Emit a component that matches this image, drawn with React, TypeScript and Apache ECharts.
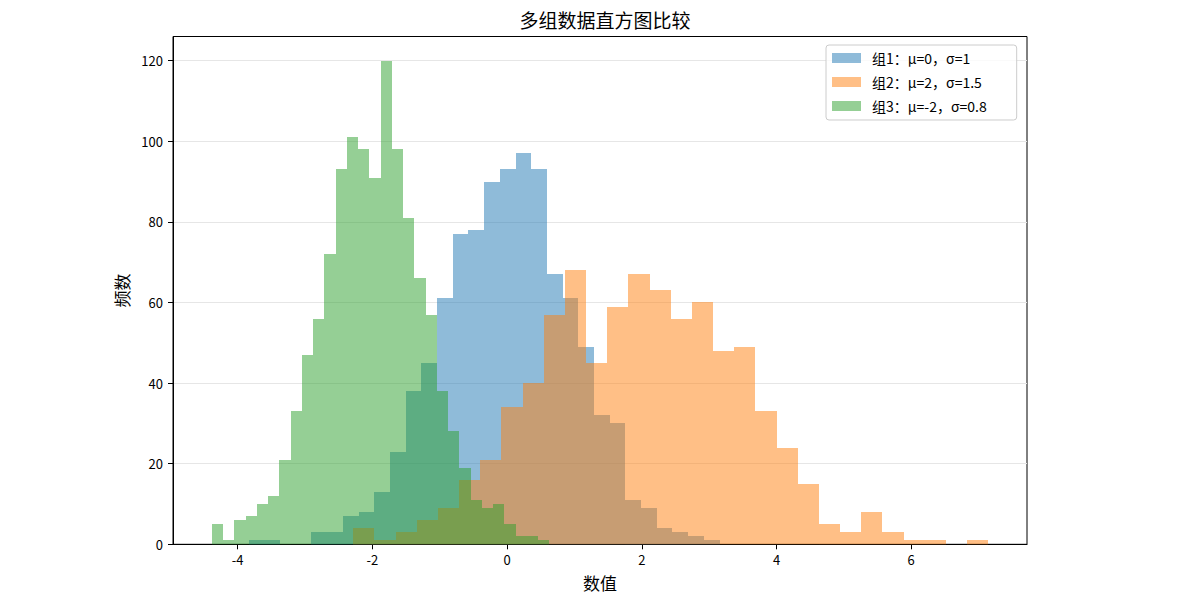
import { useEffect, useRef } from 'react';
import * as echarts from 'echarts';

// histogram counts (30 bins each)
const group1Counts = [1, 1, 0, 0, 3, 3, 7, 8, 13, 23, 38, 45, 61, 77, 78, 90, 93, 97, 93, 67, 61, 49, 32, 30, 11, 9, 4, 3, 2, 1];
const group2Counts = [4, 1, 3, 6, 9, 16, 21, 34, 40, 57, 68, 45, 59, 67, 63, 56, 60, 48, 49, 33, 24, 15, 5, 3, 8, 3, 1, 1, 0, 1];
const group3Counts = [5, 1, 6, 7, 10, 12, 21, 33, 47, 56, 72, 93, 101, 98, 91, 120, 98, 81, 66, 57, 38, 28, 19, 11, 9, 10, 5, 2, 2, 1];

// data range covered by each group's bins
const group1Range = [-3.836, 3.154];
const group2Range = [-2.283, 7.143];
const group3Range = [-4.384, 0.626];

const groupNames = ['组1：μ=0，σ=1', '组2：μ=2，σ=1.5', '组3：μ=-2，σ=0.8'];
const groupColors = ['rgba(31,119,180,0.5)', 'rgba(255,127,14,0.5)', 'rgba(44,160,44,0.5)'];

const xTicks = [-4, -2, 0, 2, 4, 6];
const yTicks = [0, 20, 40, 60, 80, 100, 120];

const FONT = '"Noto Sans CJK SC", "DejaVu Sans", sans-serif';

function toBins(counts: number[], range: number[]) {
  const w = (range[1] - range[0]) / counts.length;
  return counts.map((c, i) => [range[0] + i * w, range[0] + (i + 1) * w, c]);
}

export default function App() {
  const ref = useRef<HTMLDivElement>(null);

  useEffect(() => {
    if (!ref.current) return;
    const chart = echarts.init(ref.current, null, { renderer: 'svg' });

    const groups = [
      toBins(group1Counts, group1Range),
      toBins(group2Counts, group2Range),
      toBins(group3Counts, group3Range),
    ];
    const lo = Math.min(group1Range[0], group2Range[0], group3Range[0]);
    const hi = Math.max(group1Range[1], group2Range[1], group3Range[1]);
    const pad = (hi - lo) * 0.05;
    const yMax = Math.max(...group1Counts, ...group2Counts, ...group3Counts) * 1.05;

    chart.setOption({
      animation: false,
      textStyle: { fontFamily: FONT },
      title: {
        text: '多组数据直方图比较',
        left: 600,
        top: 5,
        textAlign: 'center',
        textStyle: { fontFamily: FONT, fontSize: 19, fontWeight: 'normal', color: '#000' },
      },
      legend: {
        orient: 'vertical',
        left: 826,
        top: 45,
        padding: [6, 30, 7, 6],
        itemGap: 10,
        itemWidth: 29,
        itemHeight: 10,
        icon: 'rect',
        backgroundColor: 'rgba(255,255,255,0.8)',
        borderColor: '#cccccc',
        borderWidth: 1,
        borderRadius: 3,
        textStyle: { fontFamily: FONT, fontSize: 14, color: '#000', padding: [0, 0, 0, 6] },
        data: groupNames,
      },
      grid: {
        left: 173,
        right: 176,
        top: 36.5,
        bottom: 63.7,
        show: true,
        borderColor: '#000',
        borderWidth: 1,
      },
      xAxis: {
        type: 'value',
        min: lo - pad,
        max: hi + pad,
        name: '数值',
        nameLocation: 'middle',
        nameGap: 30,
        nameTextStyle: { fontFamily: FONT, fontSize: 17, color: '#000' },
        axisLine: { onZero: false, lineStyle: { color: '#000', width: 1 } },
        axisTick: { show: true, length: 5, lineStyle: { color: '#000' }, customValues: xTicks },
        axisLabel: { color: '#000', fontSize: 13, margin: 9, customValues: xTicks },
        splitLine: { show: false },
      },
      yAxis: {
        type: 'value',
        min: 0,
        max: yMax,
        interval: 20,
        name: '频数',
        nameLocation: 'middle',
        nameGap: 38,
        nameRotate: 90,
        nameTextStyle: { fontFamily: FONT, fontSize: 17, color: '#000' },
        axisLine: { show: true, onZero: false, lineStyle: { color: '#000', width: 1 } },
        axisTick: { show: true, length: 5, lineStyle: { color: '#000' }, customValues: yTicks },
        axisLabel: { color: '#000', fontSize: 13, margin: 10, customValues: yTicks },
        splitLine: { show: true, lineStyle: { color: '#e6e6e6', width: 1 } },
      },
      series: groups.map((bins, gi) => ({
        name: groupNames[gi],
        type: 'custom',
        itemStyle: { color: groupColors[gi] },
        encode: { x: [0, 1], y: 2 },
        data: bins,
        renderItem: (_params: any, api: any) => {
          if (api.value(2) <= 0) return null;
          const p0 = api.coord([api.value(0), api.value(2)]);
          const p1 = api.coord([api.value(1), 0]);
          // snap to whole pixels so neighbouring bins meet without seams
          const x0 = Math.round(p0[0]);
          const x1 = Math.round(p1[0]);
          const y0 = Math.round(p0[1]);
          return {
            type: 'rect',
            shape: { x: x0, y: y0, width: x1 - x0, height: p1[1] - y0 },
            style: { fill: api.visual('color') },
          };
        },
      })),
    });

    return () => chart.dispose();
  }, []);

  return (
    <div
      ref={ref}
      style={{ position: 'fixed', left: 0, top: 0, width: 1203, height: 608, background: '#fff' }}
    />
  );
}
